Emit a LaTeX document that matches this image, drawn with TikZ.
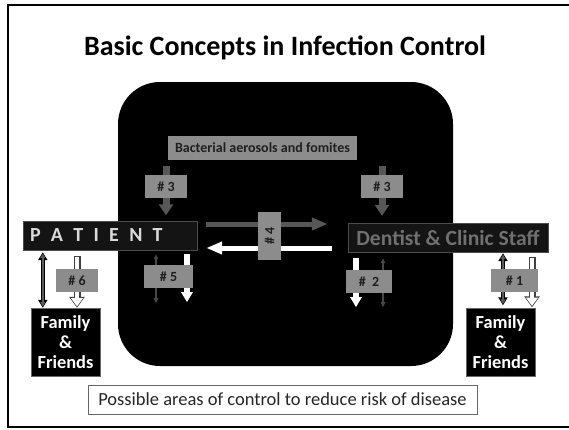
\documentclass[tikz,border=0pt]{standalone}
\usepackage{fontspec}
\setmainfont{Carlito}
\usetikzlibrary{arrows.meta,backgrounds}
\definecolor{boxgray}{HTML}{8C8C8C}
\definecolor{arrowgray}{HTML}{575757}
\definecolor{bargray}{HTML}{141414}
\definecolor{staffgray}{HTML}{707070}
\definecolor{namegray}{HTML}{DADADA}
\tikzset{
  numtag/.style={fill=boxgray, inner sep=0pt, text=black!88, font=\fontsize{14}{16}\selectfont\bfseries},
  namebar/.style={fill=bargray, draw=black!70, inner sep=0pt, minimum height=29pt},
  fam/.style={fill=black, draw=black!60, inner sep=0pt, text=white, align=center, minimum width=69pt, minimum height=68pt, font=\fontsize{18.4}{20}\selectfont\bfseries},
  drop/.style={line width=7pt, arrowgray, -{Triangle[width=14pt,length=11pt]}},
  flow/.style={line width=5pt, -{Triangle[width=12pt,length=16pt]}},
  spill/.style={line width=6pt, white, -{Triangle[width=11pt,length=10pt]}},
  thin both/.style={line width=1.4pt, black!72, {Triangle[width=4.5pt,length=5pt]}-{Triangle[width=4.5pt,length=5pt]}},
  hollow/.style={line width=7pt, black!75, -{Triangle[width=15pt,length=11pt]}},
  hollow fill/.style={line width=4.6pt, white, -{Triangle[width=11.4pt,length=8.2pt]}},
  twoway/.style={line width=3.6pt, black, {Triangle[width=9pt,length=8pt]}-{Triangle[width=9pt,length=8pt]}},
  twoway fill/.style={line width=1.6pt, black!65, {Triangle[width=5pt,length=4.6pt]}-{Triangle[width=5pt,length=4.6pt]}}
}
\begin{document}
\begin{tikzpicture}[x=1pt, y=-1pt]
  \useasboundingbox (0,0) rectangle (569,429);
  \draw[line width=1.6pt] (8,5) rectangle (590,427);
  \node (T) [anchor=base, font=\fontsize{28}{34}\selectfont\bfseries] at (285,55) {Basic Concepts in Infection Control};
  \begin{scope}[on background layer]
    \node (R) [fill=black, rounded corners=42pt, minimum width=335pt, minimum height=284pt] at (285.5,224) {};
  \end{scope}
  \node (B)   [numtag, minimum width=189pt, minimum height=24pt] at (262.5,148) {Bacterial aerosols and fomites};
  \node (P)   [namebar, inner xsep=7pt, minimum width=174pt, text width=160pt, align=left, text=namegray, font=\fontsize{20}{24}\selectfont\bfseries] at (110,235.5) {\spaceskip=10.3pt P A T I E N T};
  \node (D)   [namebar, minimum width=200pt, text=staffgray, font=\fontsize{21.6}{26}\selectfont\bfseries] at (448,237.5) {Dentist \& Clinic Staff};
  \node (H3a) [numtag, minimum width=42pt, minimum height=23pt] at (166,186.5) {\# 3};
  \node (H3b) [numtag, minimum width=42pt, minimum height=23pt] at (382,186.5) {\# 3};
  \node (H4)  [numtag, minimum width=48pt, minimum height=23pt, rotate=90] at (269.5,236) {\# 4};
  \node (H5)  [numtag, minimum width=49pt, minimum height=23pt] at (168.5,276.5) {\# 5};
  \node (H2)  [numtag, minimum width=46pt, minimum height=23pt] at (369,281.5) {\#\ \ 2};
  \node (H6)  [numtag, minimum width=42pt, minimum height=23pt] at (77,280.5) {\# 6};
  \node (H1)  [numtag, minimum width=47pt, minimum height=23pt] at (514.5,280.5) {\# 1};
  \node (F1)  [fam] at (65.5,342) {Family\\\&\\Friends};
  \node (F2)  [fam] at (500.5,342.5) {Family\\\&\\Friends};
  \node (N)   [draw=black!60, inner sep=0pt, minimum width=389pt, minimum height=29pt, text=black!85, font=\fontsize{18.5}{22}\selectfont] at (282.5,399.5) {Possible areas of control to reduce risk of disease};
  \begin{scope}[on background layer]
    \draw[drop, shorten <=6pt, shorten >=5.5pt] (B.south -| H3a) -- (P.north -| H3a);
    \draw[drop, shorten <=6pt, shorten >=7pt] (B.south -| H3b) -- (D.north -| H3b);
    \draw[flow, arrowgray, shorten <=9pt, shorten >=20pt, transform canvas={yshift=11.5pt}] (P.east) -- (P.east -| D.west);
    \draw[flow, white, shorten <=16pt, shorten >=9pt, transform canvas={yshift=-12.5pt}] (P.east -| D.west) -- (P.east);
    \coordinate (a6) at ([xshift=12pt]F1.north west);
    \draw[twoway, shorten <=2pt] (a6 |- P.south) -- (a6);
    \draw[twoway fill, shorten <=3.3pt, shorten >=1.3pt] (a6 |- P.south) -- (a6);
    \draw[hollow, shorten <=6pt] (P.south -| H6) -- (F1.north -| H6);
    \draw[hollow fill, shorten <=7.2pt, shorten >=1.4pt] (P.south -| H6) -- (F1.north -| H6);
    \coordinate (a5) at ([xshift=-12.5pt]H5.center);
    \coordinate (b5) at ([xshift=18.5pt]H5.center);
    \draw[thin both, shorten <=4pt] (a5 |- P.south) -- ++(0,53);
    \draw[spill, shorten <=4pt] (b5 |- P.south) -- ++(0,52);
    \coordinate (a2) at ([xshift=-13pt]H2.center);
    \coordinate (b2) at ([xshift=14pt]H2.center);
    \draw[spill, shorten <=6pt] (a2 |- D.south) -- ++(0,55);
    \draw[thin both, shorten <=6pt] (b2 |- D.south) -- ++(0,55);
    \coordinate (a1) at ([xshift=2.5pt]F2.north);
    \coordinate (b1) at ([xshift=31.5pt]F2.north);
    \draw[twoway, shorten <=1pt, shorten >=3pt] (a1 |- D.south) -- (a1);
    \draw[twoway fill, shorten <=2.3pt, shorten >=4.3pt] (a1 |- D.south) -- (a1);
    \draw[hollow, shorten <=5pt, shorten >=1pt] (b1 |- D.south) -- (b1);
    \draw[hollow fill, shorten <=6.2pt, shorten >=2.4pt] (b1 |- D.south) -- (b1);
  \end{scope}
\end{tikzpicture}
\end{document}
